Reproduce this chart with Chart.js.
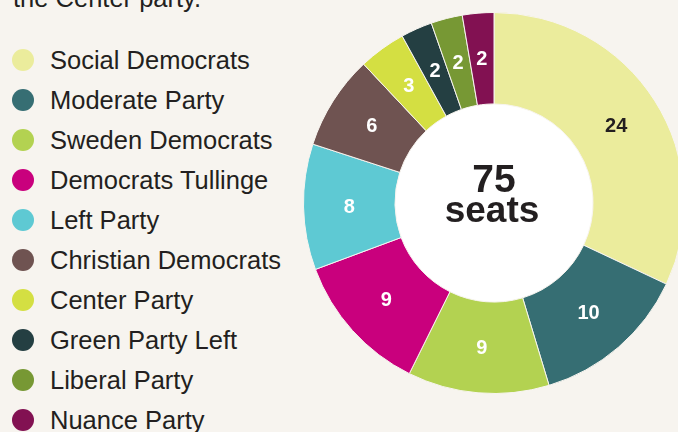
<!DOCTYPE html>
<html lang="en">
<head>
<meta charset="UTF-8" />
<title>Seats</title>
<script src="https://cdn.jsdelivr.net/npm/chart.js"></script>
<style>
  *, *::before, *::after { box-sizing: border-box; margin: 0; padding: 0; }
  html, body {
    width: 678px; height: 432px; overflow: hidden;
    background: #f7f4ef;
    font-family: 'Liberation Sans', Arial, sans-serif;
    color: #231f20;
  }
  #intro {
    position: absolute; left: 13px; top: -17px;
    font-size: 25.5px; line-height: 30px; white-space: nowrap;
  }
  #legend { position: absolute; left: 0; top: 40px; list-style: none; }
  #legend li {
    position: relative; height: 40px; line-height: 40px;
    padding-left: 50px; font-size: 25.5px; white-space: nowrap;
  }
  #legend li span {
    position: absolute; left: 12px; top: 9px;
    width: 22px; height: 22px; border-radius: 50%;
  }
  #wrap { position: absolute; left: 294px; top: 3px; width: 400px; height: 400px; }
</style>
</head>
<body>
<div id="intro">the Center party.</div>
<ul id="legend"></ul>
<div id="wrap"><canvas id="seats" width="400" height="400"></canvas></div>

<script>
  const parties = ['Social Democrats', 'Moderate Party', 'Sweden Democrats', 'Democrats Tullinge',
    'Left Party', 'Christian Democrats', 'Center Party', 'Green Party Left', 'Liberal Party', 'Nuance Party'];
  const seats = [24, 10, 9, 9, 8, 6, 3, 2, 2, 2];
  const colors = ['#ebec9c', '#366e73', '#b3d251', '#c9007d', '#5ec9d3', '#6f5351',
    '#d4df42', '#243f42', '#779834', '#821152'];
  const labelColors = ['#231f20', '#fff', '#fff', '#fff', '#fff', '#fff', '#fff', '#fff', '#fff', '#fff'];

  // legend
  const legend = document.getElementById('legend');
  parties.forEach((p, i) => {
    const li = document.createElement('li');
    li.innerHTML = `<span style="background:${colors[i]}"></span>${p}`;
    legend.appendChild(li);
  });

  const total = seats.reduce((a, b) => a + b, 0);

  const ringPlugin = {
    id: 'ring',
    beforeDatasetsDraw(chart) {
      const arc = chart.getDatasetMeta(0).data[0];
      const ctx = chart.ctx;
      ctx.save();
      ctx.fillStyle = '#ffffff';
      ctx.beginPath();
      ctx.arc(arc.x, arc.y, arc.innerRadius, 0, Math.PI * 2);
      ctx.fill();
      ctx.restore();
    },
    afterDatasetsDraw(chart) {
      const ctx = chart.ctx;
      const meta = chart.getDatasetMeta(0);
      ctx.save();
      ctx.textAlign = 'center';
      ctx.textBaseline = 'middle';
      ctx.font = 'bold 20px "Liberation Sans", Arial, sans-serif';
      meta.data.forEach((el, i) => {
        const pos = el.tooltipPosition();
        ctx.fillStyle = labelColors[i];
        ctx.fillText(seats[i], pos.x, pos.y + 1);
      });
      const c = meta.data[0];
      ctx.fillStyle = '#231f20';
      ctx.textBaseline = 'alphabetic';
      ctx.font = 'bold 39px "Liberation Sans", Arial, sans-serif';
      ctx.fillText(String(total), c.x, c.y - 11);
      ctx.font = 'bold 37px "Liberation Sans", Arial, sans-serif';
      ctx.fillText('seats', c.x - 2, c.y + 19);
      ctx.restore();
    }
  };

  new Chart(document.getElementById('seats'), {
    type: 'doughnut',
    data: {
      labels: parties,
      datasets: [{
        data: seats,
        backgroundColor: colors,
        borderColor: '#f7f4ef',
        borderWidth: 1
      }]
    },
    options: {
      responsive: false,
      animation: false,
      cutout: '52%',
      layout: { padding: 9 },
      plugins: { legend: { display: false }, tooltip: { enabled: false } }
    },
    plugins: [ringPlugin]
  });
</script>
</body>
</html>
